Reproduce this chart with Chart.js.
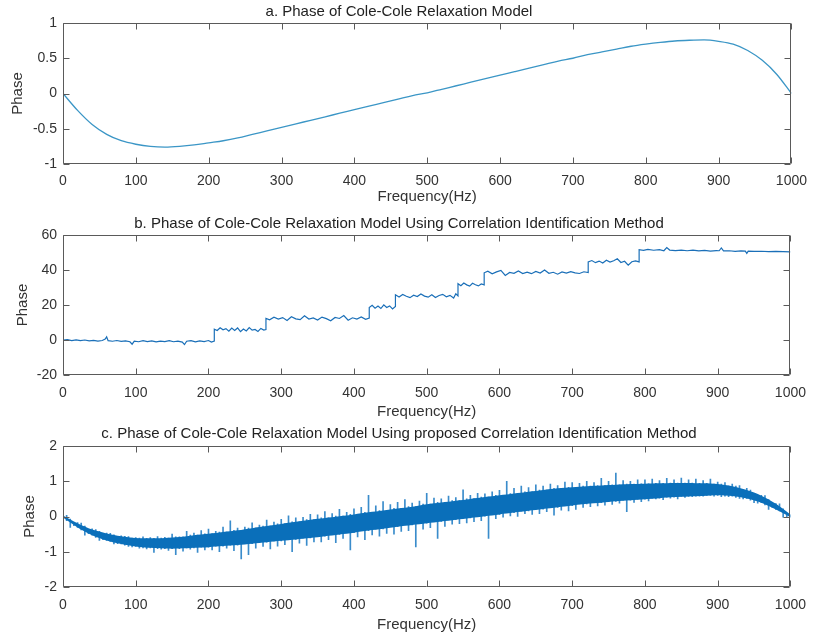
<!DOCTYPE html>
<html>
<head>
<meta charset="utf-8">
<script src="https://cdn.jsdelivr.net/npm/chart.js@4.4.0/dist/chart.umd.min.js"></script>
<style>
  body { margin: 0; background: #fff; width: 816px; height: 639px; position: relative; overflow: hidden; }
  canvas { position: absolute; left: 0; }
</style>
</head>
<body>
<canvas id="chartA" width="816" height="206" style="top:0px"></canvas>
<canvas id="chartB" width="816" height="214" style="top:207px"></canvas>
<canvas id="chartC" width="816" height="213" style="top:421px"></canvas>
<script>
// ---- data ----

// a. smooth model phase, sampled every 20 Hz
var stepA = 20;
var phaseA = [
  0, -0.24, -0.44, -0.58, -0.67, -0.72, -0.75, -0.76, -0.75, -0.73,
  -0.70, -0.67, -0.63, -0.58, -0.53, -0.48, -0.43, -0.38, -0.33, -0.28,
  -0.23, -0.18, -0.13, -0.08, -0.03, 0.01, 0.06, 0.11, 0.16, 0.21,
  0.26, 0.31, 0.36, 0.41, 0.46, 0.50, 0.55, 0.59, 0.63, 0.67,
  0.70, 0.725, 0.745, 0.755, 0.76, 0.74, 0.70, 0.61, 0.47, 0.27,
  0.0
];

// b. stepped phase from correlation identification
var freqB = [
  0,6,12,18,24,30,36,42,48,54,58,60,62,68,74,80,86,92,95,98,104,110,116,122,128,134,140,146,152,158,164,167,170,176,182,188,194,200,204,208,
  208,212,216,220,224,228,232,236,240,244,248,252,256,260,264,268,272,276,279,
  279,284,290,296,302,308,314,320,326,332,338,344,350,356,362,368,374,380,386,392,398,404,410,416,421,
  421,425,429,433,437,441,445,449,453,457,
  457,462,467,472,477,482,487,492,497,502,507,512,517,522,527,532,537,540,543,
  543,547,551,555,559,563,567,571,575,579,
  579,584,590,596,602,608,614,620,626,632,638,644,650,656,662,668,674,680,686,692,698,704,710,716,722,
  722,727,732,737,742,747,752,757,762,767,772,777,782,787,792,
  792,798,804,812,820,826,830,834,842,850,858,866,874,882,890,898,902,905,908,916,924,932,938,940,942,950,960,970,980,990,1000
];
var phaseB = [
  0,0.2,-0.3,0.1,-0.4,0,-0.5,-0.2,-0.6,-0.3,0.5,1.8,-0.4,-0.7,-0.3,-0.8,-0.5,-1.0,-2.4,-0.6,-1.0,-0.4,-0.9,-0.5,-1.1,-0.6,-0.9,-0.4,-1.0,-0.6,-1.2,-2.6,-0.7,-0.4,-1.1,-0.5,-0.9,-0.3,-1.2,-0.6,
  6.2,5.4,7.0,5.8,6.5,5.0,6.8,5.5,6.9,4.8,6.3,5.2,7.1,5.6,6.0,4.9,6.6,5.7,6.0,
  12.3,11.5,13.0,12.0,12.8,11.2,13.3,12.1,11.6,13.8,12.0,12.6,11.4,13.1,12.2,11.0,12.9,12.3,14.0,11.3,12.7,12.0,13.2,11.8,12.5,
  18.5,19.8,18.2,19.4,18.0,20.1,18.6,19.5,17.8,19.2,
  25.8,24.6,26.0,25.0,24.2,25.6,24.8,26.3,25.1,24.5,25.9,24.3,25.4,26.1,24.7,25.5,24.0,26.4,25.2,
  32.2,31.0,32.6,31.5,30.8,32.4,31.6,30.9,32.0,31.5,
  38.4,39.3,37.8,38.9,39.8,36.9,38.6,38.1,39.4,38.0,38.8,37.9,39.2,38.3,40.0,38.1,38.7,37.6,38.9,38.2,39.1,38.4,38.0,39.0,38.5,
  44.6,45.4,44.2,45.1,44.0,45.6,44.5,45.3,46.4,44.3,45.0,42.8,44.7,45.2,44.6,
  51.6,51.2,51.8,51.3,51.6,51.0,52.8,51.4,51.1,51.4,51.0,51.3,50.9,51.2,50.8,51.1,51.0,52.6,50.9,51.0,50.7,50.9,50.8,49.5,50.8,50.6,50.7,50.5,50.6,50.5,50.4
];

// c. proposed method: dense noise band (edges every 20 Hz) plus spike tips every 5 Hz
var stepBand = 20;
var lowC = [
  -0.03, -0.31, -0.53, -0.68, -0.78, -0.85, -0.89, -0.91, -0.91, -0.89,
  -0.87, -0.84, -0.81, -0.77, -0.73, -0.69, -0.65, -0.61, -0.56, -0.51,
  -0.46, -0.40, -0.35, -0.29, -0.24, -0.19, -0.14, -0.09, -0.04, 0.01,
  0.06, 0.11, 0.16, 0.21, 0.26, 0.31, 0.36, 0.39, 0.43, 0.46,
  0.49, 0.52, 0.55, 0.57, 0.58, 0.60, 0.58, 0.51, 0.39, 0.20,
  -0.02
];
var highC = [
  0.03, -0.19, -0.37, -0.48, -0.56, -0.61, -0.62, -0.61, -0.58, -0.53,
  -0.49, -0.44, -0.39, -0.33, -0.27, -0.21, -0.15, -0.09, -0.04, 0.01,
  0.06, 0.12, 0.17, 0.23, 0.28, 0.35, 0.40, 0.45, 0.50, 0.55,
  0.60, 0.65, 0.70, 0.75, 0.80, 0.83, 0.86, 0.88, 0.90, 0.92,
  0.93, 0.94, 0.95, 0.95, 0.94, 0.92, 0.86, 0.75, 0.59, 0.36,
  0.06
];
var stepSpike = 5;
var spikeC = [
  0.03,-0.12,-0.07,-0.26,-0.17,-0.38,-0.27,-0.49,-0.35,-0.59,
  -0.42,-0.66,-0.47,-0.71,-0.52,-0.77,-0.55,-0.81,-0.57,-0.86,
  -0.60,-0.90,-0.58,-0.92,-0.60,-1.02,-0.57,-0.93,-0.59,-0.96,
  -0.50,-1.08,-0.58,-0.98,-0.42,-0.93,-0.47,-1.02,-0.40,-0.95,
  -0.36,-0.95,-0.42,-1.00,-0.30,-0.90,-0.12,-0.97,-0.33,-1.20,
  -0.30,-1.08,-0.18,-0.90,-0.24,-0.85,-0.10,-0.92,-0.16,-0.84,
  -0.08,-0.80,0.02,-1.00,-0.04,-0.76,-0.02,-0.82,0.06,-0.72,
  0.05,-0.72,0.14,-0.66,0.08,-0.74,0.20,-0.62,0.12,-0.95,
  0.22,-0.58,0.26,-0.66,0.60,-0.52,0.30,-0.56,0.42,-0.48,
  0.34,-0.50,0.40,-0.42,0.48,-0.40,0.38,-0.86,0.44,-0.36,
  0.66,-0.32,0.52,-0.62,0.50,-0.28,0.58,-0.22,0.54,-0.20,
  0.76,-0.18,0.60,-0.15,0.66,-0.12,0.64,-0.62,0.70,-0.06,
  0.74,-0.02,1.00,0.02,0.80,0.00,0.86,0.08,0.82,0.06,
  0.90,0.08,0.86,0.14,0.92,0.04,0.88,0.18,0.98,0.16,
  0.96,0.20,0.94,0.26,1.00,0.28,0.96,0.30,1.08,0.32,
  1.00,0.34,1.23,0.38,1.02,0.14,1.00,0.40,1.04,0.42,
  1.04,0.44,1.06,0.50,1.02,0.48,1.08,0.52,1.04,0.50,
  1.09,0.54,1.04,0.56,1.06,0.58,1.02,0.60,1.06,0.58,
  0.98,0.56,0.96,0.56,0.92,0.54,0.88,0.50,0.80,0.46,
  0.66,0.38,0.60,0.33,0.48,0.26,0.37,0.16,0.22,0.04,
  0.05
];

var titles = [
  "a. Phase of Cole-Cole Relaxation Model",
  "b. Phase of Cole-Cole Relaxation Model Using Correlation Identification Method",
  "c. Phase of Cole-Cole Relaxation Model Using proposed Correlation Identification Method"
];
var xLabel = "Frequency(Hz)";
var yLabel = "Phase";

// ---- helpers ----
function toPoints(values, step) {
  return values.map(function(v, i) { return { x: i * step, y: v }; });
}
function zipPoints(xs, ys) {
  return xs.map(function(x, i) { return { x: x, y: ys[i] }; });
}
// each spike tip becomes a thin floating bar reaching back across the band
function spikeBars(tips, step) {
  return tips.map(function(v, i) {
    var f = i * step;
    var k = Math.round(f / stepBand);
    var mid = (lowC[k] + highC[k]) / 2;
    var base = v > mid ? lowC[k] : highC[k];
    return { x: f, y: [base, v] };
  });
}

var FONT = "'Liberation Sans', Arial, sans-serif";
var textColor = "#333";
var axisColor = "#5a5a5a";

// MATLAB style box with inward ticks on all four sides
var boxTicks = {
  id: "boxTicks",
  afterDatasetsDraw: function(chart) {
    var ctx = chart.ctx, a = chart.chartArea;
    var xs = chart.scales.x, ys = chart.scales.y;
    var L = 6;
    ctx.save();
    ctx.strokeStyle = axisColor;
    ctx.lineWidth = 1;
    ctx.beginPath();
    var left = Math.round(a.left) + 0.5, right = Math.round(a.right) - 0.5;
    var top = Math.round(a.top) + 0.5, bottom = Math.round(a.bottom) - 0.5;
    ctx.rect(left, top, right - left, bottom - top);
    xs.ticks.forEach(function(t) {
      var px = Math.round(xs.getPixelForValue(t.value)) + 0.5;
      ctx.moveTo(px, top); ctx.lineTo(px, top + L);
      ctx.moveTo(px, bottom); ctx.lineTo(px, bottom - L);
    });
    ys.ticks.forEach(function(t) {
      var py = Math.round(ys.getPixelForValue(t.value)) + 0.5;
      ctx.moveTo(left, py); ctx.lineTo(left + L, py);
      ctx.moveTo(right, py); ctx.lineTo(right - L, py);
    });
    ctx.stroke();
    ctx.restore();
  }
};

function plainTick(v) { return String(v); }

function makePanel(id, datasets, cfg) {
  return new Chart(document.getElementById(id), {
    type: "line",
    data: { datasets: datasets },
    plugins: [boxTicks],
    options: {
      responsive: false,
      animation: false,
      events: [],
      layout: { padding: { left: 0, right: 18, top: 0, bottom: 0 } },
      plugins: {
        legend: { display: false },
        tooltip: { enabled: false },
        title: {
          display: true,
          text: cfg.title,
          color: "#222",
          font: { family: FONT, size: 15, weight: "normal" },
          padding: { top: cfg.titleTop, bottom: cfg.titleBottom }
        }
      },
      scales: {
        x: {
          type: "linear",
          min: 0, max: 1000,
          offset: false,
          grid: { display: false, drawTicks: false, offset: false },
          border: { display: false },
          ticks: { stepSize: 100, padding: cfg.xTickPad, color: textColor, font: { family: FONT, size: 14 }, maxRotation: 0, callback: plainTick },
          title: { display: true, text: xLabel, color: textColor, font: { family: FONT, size: 15 }, padding: { top: 0, bottom: 0 } },
          afterFit: function(s) { s.height = cfg.xHeight; }
        },
        y: {
          min: cfg.yMin, max: cfg.yMax,
          grid: { display: false, drawTicks: false },
          border: { display: false },
          ticks: { stepSize: cfg.yStep, padding: 6, color: textColor, font: { family: FONT, size: 14 }, callback: plainTick },
          title: { display: true, text: yLabel, color: textColor, font: { family: FONT, size: 15 }, padding: { top: cfg.yTitlePad, bottom: cfg.yTitlePad } },
          afterFit: function(s) { s.width = 63; }
        }
      }
    }
  });
}

// ---- panel a ----
makePanel("chartA", [{
  data: toPoints(phaseA, stepA),
  borderColor: "#3b96c6",
  borderWidth: 1.3,
  pointRadius: 0,
  tension: 0.4,
  cubicInterpolationMode: "monotone",
  fill: false
}], { title: titles[0], titleTop: 3, titleBottom: 2, xTickPad: 9, xHeight: 42, yMin: -1, yMax: 1, yStep: 0.5, yTitlePad: 9 });

// ---- panel b ----
makePanel("chartB", [{
  data: zipPoints(freqB, phaseB),
  borderColor: "#1a6fb8",
  borderWidth: 1.2,
  pointRadius: 0,
  tension: 0,
  fill: false
}], { title: titles[1], titleTop: 8, titleBottom: 2, xTickPad: 10, xHeight: 46, yMin: -20, yMax: 60, yStep: 20, yTitlePad: 14 });

// ---- panel c ----
makePanel("chartC", [
  {
    data: toPoints(lowC, stepBand),
    borderWidth: 0,
    borderColor: "rgba(0,0,0,0)",
    pointRadius: 0,
    tension: 0.3,
    fill: false
  },
  {
    data: toPoints(highC, stepBand),
    borderWidth: 0,
    borderColor: "rgba(0,0,0,0)",
    backgroundColor: "#0a6fba",
    pointRadius: 0,
    tension: 0.3,
    fill: "-1"
  },
  {
    type: "bar",
    data: spikeBars(spikeC, stepSpike),
    backgroundColor: "#3a8ccb",
    borderWidth: 0,
    barThickness: 1,
    grouped: false
  }
], { title: titles[2], titleTop: 4, titleBottom: 3, xTickPad: 10, xHeight: 47, yMin: -2, yMax: 2, yStep: 1, yTitlePad: 21 });
</script>
</body>
</html>
